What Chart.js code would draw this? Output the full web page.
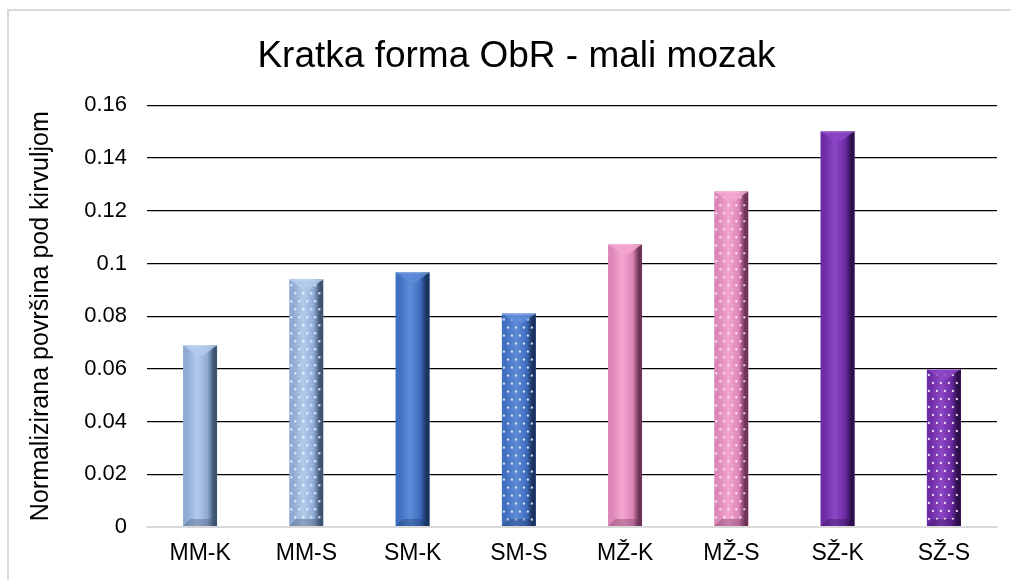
<!DOCTYPE html>
<html>
<head>
<meta charset="utf-8">
<script src="https://cdn.jsdelivr.net/npm/chart.js@4"></script>
<style>
  html, body { margin: 0; padding: 0; background: #fff; }
  #wrap { position: relative; width: 1011px; height: 580px; overflow: hidden; }
  #frame { position: absolute; left: 7px; top: 9px; width: 1020px; height: 600px;
           border-left: 2px solid #d9d9d9; border-top: 2px solid #d9d9d9; }
  #chart { position: absolute; left: 0; top: 0; }
</style>
</head>
<body>
<div id="wrap">
  <div id="frame"></div>
  <canvas id="chart" width="1011" height="580"></canvas>
</div>
<script>
const labels = ["MM-K", "MM-S", "SM-K", "SM-S", "MŽ-K", "MŽ-S", "SŽ-K", "SŽ-S"];
const values = [0.069, 0.094, 0.0967, 0.081, 0.1073, 0.1274, 0.1502, 0.060];
const dotted = [false, true, false, true, false, true, false, true];
const yTicks = [0, 0.02, 0.04, 0.06, 0.08, 0.1, 0.12, 0.14, 0.16];

// per bar: [edge dark, base, highlight]
const shades = [
    ["#3f5472", "#8eaad3", "#b4cbec"],
    ["#3f5472", "#8eaad3", "#b4cbec"],
    ["#1b3460", "#3f6fbf", "#5e8cd8"],
    ["#1b3460", "#3f6fbf", "#5e8cd8"],
    ["#6e3355", "#dd86b8", "#f3a6d0"],
    ["#6e3355", "#dd86b8", "#f3a6d0"],
    ["#2e0f4c", "#6d2ba6", "#8b47c4"],
    ["#2e0f4c", "#6d2ba6", "#8b47c4"],
];

const font = "Liberation Sans, Arial, sans-serif";

// shaded cylinder look: side gradient, top chevron, bottom bevel, dots on the "S" bars
const bevel = {
    id: "bevel",
    afterDatasetsDraw (chart) {
        const c = chart.ctx;
        const meta = chart.getDatasetMeta(0);
        meta.data.forEach((bar, i) => {
            const w = bar.width, l = bar.x - w / 2, r = bar.x + w / 2;
            const top = bar.y, bot = bar.base;
            const s = shades[i];
            c.save();
            c.beginPath();
            c.rect(l, top, w, bot - top);
            c.clip();

            const g = c.createLinearGradient(l, 0, r, 0);
            g.addColorStop(0, s[1]);
            g.addColorStop(0.1, s[1]);
            g.addColorStop(0.42, s[2]);
            g.addColorStop(0.72, s[1]);
            g.addColorStop(0.9, s[0]);
            g.addColorStop(1, s[0]);
            c.fillStyle = g;
            c.fillRect(l, top, w, bot - top);

            if (dotted[i]) {
                c.fillStyle = "rgba(255,255,255,0.85)";
                let row = 0;
                for (let y = top + 5; y < bot - 2; y += 8, row++) {
                    const off = row % 2 ? 4 : 0;
                    for (let x = l + 1 + off; x < r - 1; x += 8) {
                        c.fillRect(x, y, 2, 2);
                    }
                }
            }

            // top chevron
            const d = Math.min(10, (bot - top) / 2);
            c.beginPath();
            c.moveTo(l, top);
            c.lineTo(r, top);
            c.lineTo(bar.x + 3, top + d);
            c.lineTo(bar.x - 3, top + d);
            c.closePath();
            c.fillStyle = s[2];
            c.globalAlpha = 0.85;
            c.fill();
            c.globalAlpha = 0.4;
            c.fillStyle = "#ffffff";
            c.fillRect(l, top, w, 1);

            // bottom bevel
            c.globalAlpha = 0.35;
            c.beginPath();
            c.moveTo(l, bot);
            c.lineTo(r, bot);
            c.lineTo(r - 7, bot - 7);
            c.lineTo(l + 7, bot - 7);
            c.closePath();
            c.fillStyle = s[0];
            c.fill();
            c.restore();
        });
    }
};

new Chart(document.getElementById("chart"), {
    type: "bar",
    data: {
        labels: labels,
        datasets: [{
            data: values,
            backgroundColor: shades.map(s => s[1]),
            borderWidth: 0,
            barPercentage: 0.32,
            categoryPercentage: 1,
        }]
    },
    options: {
        responsive: false,
        animation: false,
        layout: { padding: { left: 36, right: 14, top: 0, bottom: 0 } },
        plugins: {
            legend: { display: false },
            tooltip: { enabled: false },
            title: {
                display: true,
                text: "Kratka forma ObR - mali mozak",
                color: "#000",
                font: { family: font, size: 37, weight: "normal" },
                padding: { top: 35, bottom: 26 },
            },
        },
        scales: {
            x: {
                grid: { display: false, drawTicks: false },
                border: { display: true, color: "#d9d9d9", width: 2 },
                ticks: {
                    color: "#000",
                    padding: 13,
                    font: { family: font, size: 23 },
                },
                afterFit (scale) { scale.height = 53; },
            },
            y: {
                min: 0,
                max: 0.16,
                afterBuildTicks (scale) { scale.ticks = yTicks.map(v => ({ value: v })); },
                grid: {
                    drawTicks: false,
                    color: (ctx) => ctx.tick && ctx.tick.value === 0 ? "#d9d9d9" : "#000",
                    lineWidth: (ctx) => ctx.tick && ctx.tick.value === 0 ? 2 : 1.2,
                },
                border: { display: false },
                ticks: {
                    color: "#000",
                    padding: 20,
                    font: { family: font, size: 22 },
                    callback: (v) => String(Number(v.toFixed(2))),
                },
                title: {
                    display: true,
                    text: "Normalizirana površina pod kirvuljom",
                    color: "#000",
                    font: { family: font, size: 25 },
                    padding: { top: -10, bottom: 0 },
                },
                afterFit (scale) { scale.width = 111; },
            },
        },
    },
    plugins: [bevel],
});
</script>
</body>
</html>
